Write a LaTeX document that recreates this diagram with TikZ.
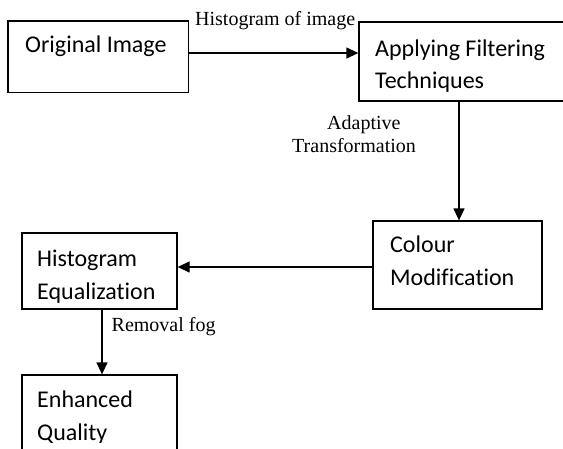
\documentclass[tikz,border=0pt]{standalone}
\usepackage{fontspec}
\setmainfont{Liberation Serif}
\newfontfamily\boxfont[Ligatures=NoCommon]{Carlito}
\usetikzlibrary{arrows.meta,calc}

\tikzset{
  procbox/.style={draw=black, line width=1.3pt, rectangle, inner sep=0pt},
  boxtext/.style={anchor=base west, inner sep=0pt, text=black,
    font=\boxfont\fontsize{24}{32}\selectfont},
  edgelabel/.style={anchor=base west, inner sep=0pt, text=black,
    font=\fontsize{20}{24}\selectfont},
  flow/.style={draw=black, line width=1.3pt,
    -{Triangle[length=12pt,width=11pt]}},
}

\begin{document}
\begin{tikzpicture}[x=1pt, y=-1pt]
  \useasboundingbox (0,0) rectangle (563,448);
  \clip (0,0) rectangle (563,448);

  % process boxes
  \node[procbox, minimum width=180.5pt, minimum height=71.5pt] (orig)   at (98.25,56.75) {};
  \node[procbox, minimum width=241pt,   minimum height=79pt]   (filt)   at (479.5,61.5)  {};
  \node[procbox, minimum width=169pt,   minimum height=88pt]   (colour) at (457.5,265)   {};
  \node[procbox, minimum width=155pt,   minimum height=76pt]   (histeq) at (99.5,271)    {};
  \node[procbox, minimum width=155pt,   minimum height=95pt]   (enh)    at (99.5,422.5)  {};

  % box captions
  \node[boxtext] (origT)    at (25,52.5)  {Original Image};
  \node[boxtext] (filtT1)   at (375,56)   {Applying Filtering};
  \node[boxtext] (filtT2)   at (375,88)   {Techniques};
  \node[boxtext] (colourT1) at (390,252.5) {Colour};
  \node[boxtext] (colourT2) at (390,285.5) {Modification};
  \node[boxtext] (histT1)   at (37,266)   {Histogram};
  \begin{scope}
    \clip (histeq.north west) rectangle (177,306.5);
    \node[boxtext] (histT2) at (37,299) {Equalization};
  \end{scope}
  \begin{scope}
    \clip (enh.north west) rectangle (177,442.5);
    \node[boxtext] (enhT1) at (37,407.5) {Enhanced};
    \node[boxtext] (enhT2) at (37,440.5) {Quality};
  \end{scope}

  % routing guides for the connectors
  \coordinate (rowA) at (0,53);
  \coordinate (colB) at (459,0);
  \coordinate (rowC) at (0,267);
  \coordinate (colD) at (102,0);

  % connectors
  \draw[flow] (orig.east |- rowA) -- (filt.west |- rowA);
  \draw[flow] (filt.south -| colB) -- (colour.north -| colB);
  \draw[flow] (colour.west |- rowC) -- (histeq.east |- rowC);
  \draw[flow] (histeq.south -| colD) -- (enh.north -| colD);

  % connector labels
  \node[edgelabel] (lblHist)  at (195,25)    {Histogram of image};
  \node[edgelabel] (lblAdapt) at (327,129.3) {Adaptive};
  \node[edgelabel] (lblTrans) at (292,152.3) {Transformation};
  \node[edgelabel] (lblFog)   at (111.5,331.5) {Removal fog};
\end{tikzpicture}
\end{document}
